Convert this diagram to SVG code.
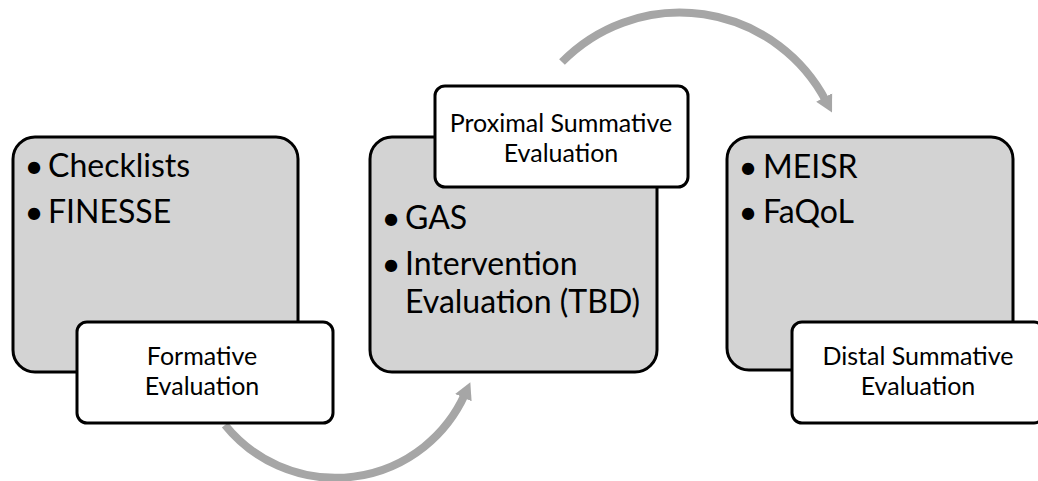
<svg xmlns="http://www.w3.org/2000/svg" width="1038" height="481" viewBox="0 0 1038 481">
<style>
.box{fill:#d3d3d3;stroke:#000;stroke-width:3}
.lbl{fill:#fff;stroke:#000;stroke-width:3}
.big{font-family:Lato,"Open Sans","Liberation Sans",sans-serif;font-size:32px;fill:#000}
.bul{font-family:Lato,"Open Sans","Liberation Sans",sans-serif;font-size:33px;fill:#000;text-anchor:middle}
.sm{font-family:Lato,"Open Sans","Liberation Sans",sans-serif;font-size:25px;fill:#000;text-anchor:middle}
.arc{fill:none;stroke:#a6a6a6;stroke-width:8}
</style>
<defs>
<marker id="ah" markerUnits="userSpaceOnUse" markerWidth="20" markerHeight="20" refX="4" refY="9" orient="auto" viewBox="0 0 20 18">
<path d="M0,0 L17,9 L0,18 z" fill="#a6a6a6"/>
</marker>
</defs>
<g id="connectors">
<path class="arc" d="M225,425 A142,142 0 0 0 465,394" marker-end="url(#ah)"/>
<path class="arc" d="M562,62 A165,165 0 0 1 826,101" marker-end="url(#ah)"/>
</g>
<g id="node-formative">
<rect class="box" x="13" y="137" width="285" height="235" rx="22"/>
<text class="bul" x="34" y="178">•</text>
<text class="big" x="48" y="177">Checklists</text>
<text class="bul" x="34" y="224">•</text>
<text class="big" x="48" y="223">FINESSE</text>
</g>
<g id="label-formative">
<rect class="lbl" x="77" y="322" width="256" height="101" rx="10"/>
<text class="sm" x="202" y="365">Formative</text>
<text class="sm" x="202" y="395">Evaluation</text>
</g>
<g id="node-proximal">
<rect class="box" x="370" y="137" width="287" height="235" rx="22"/>
<text class="bul" x="391" y="230">•</text>
<text class="big" x="405" y="229">GAS</text>
<text class="bul" x="391" y="276">•</text>
<text class="big" x="405" y="275">Intervention</text>
<text class="big" x="405" y="313">Evaluation (TBD)</text>
</g>
<g id="label-proximal">
<rect class="lbl" x="435" y="86" width="253" height="101" rx="10"/>
<text class="sm" x="561" y="132">Proximal Summative</text>
<text class="sm" x="561" y="162">Evaluation</text>
</g>
<g id="node-distal">
<rect class="box" x="727" y="137" width="286" height="233" rx="22"/>
<text class="bul" x="748" y="179">•</text>
<text class="big" x="763" y="178">MEISR</text>
<text class="bul" x="748" y="224">•</text>
<text class="big" x="763" y="223">FaQoL</text>
</g>
<g id="label-distal">
<rect class="lbl" x="792" y="322" width="252" height="101" rx="10"/>
<text class="sm" x="918" y="365">Distal Summative</text>
<text class="sm" x="918" y="395">Evaluation</text>
</g>
</svg>
